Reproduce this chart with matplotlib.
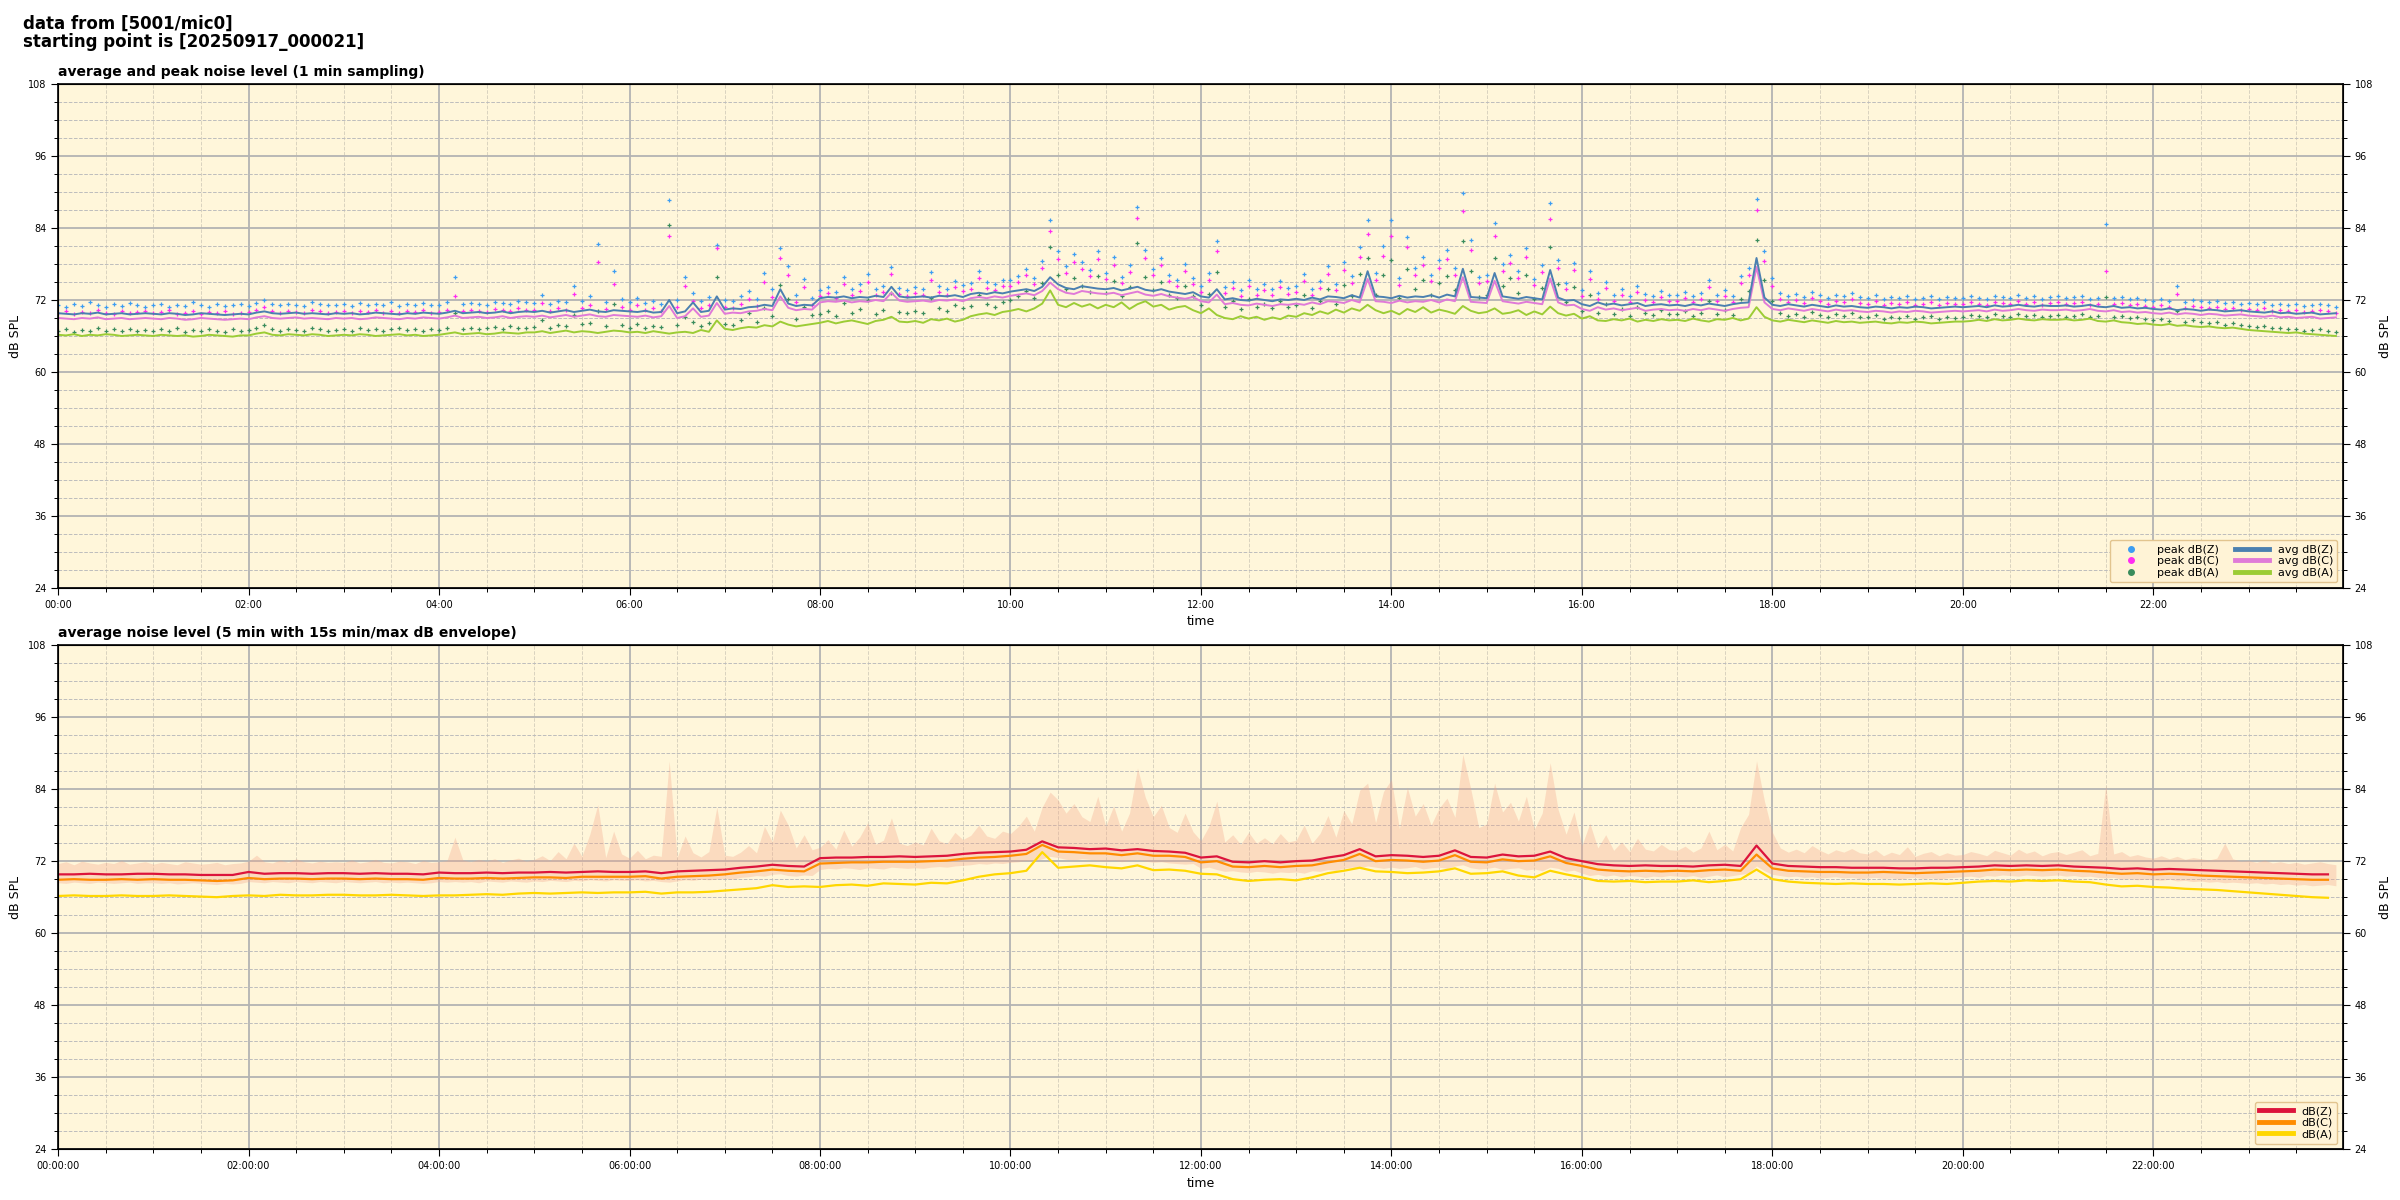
import numpy as np
import matplotlib
matplotlib.use("Agg")
import matplotlib.pyplot as plt
from matplotlib.lines import Line2D
from matplotlib.ticker import MultipleLocator

# ---------------- data (dB SPL) ----------------
# top panel, 5-minute samples starting 00:00
avg_z = [
69.8,69.7,69.6,69.8,69.7,69.9,69.6,69.7,69.8,69.6,69.7,69.8,
69.7,69.6,69.8,69.7,69.5,69.6,69.8,69.7,69.6,69.5,69.6,69.7,
69.6,69.9,70.1,69.8,69.7,69.8,69.9,69.7,69.8,69.7,69.6,69.8,
69.7,69.8,69.6,69.7,69.9,69.8,69.7,69.6,69.8,69.7,69.9,69.8,
69.7,69.9,70.2,69.8,69.9,70.0,69.8,69.9,70.1,69.8,70.0,70.1,
70.0,70.2,69.9,70.1,70.3,70.0,70.2,70.4,70.1,70.0,70.3,70.2,
70.1,70.0,70.2,69.9,70.0,72.0,69.8,70.1,71.6,70.0,70.2,72.6,
70.4,70.6,70.5,70.8,70.9,71.2,71.0,73.8,71.4,71.0,71.2,71.1,
72.3,72.5,72.4,72.6,72.3,72.5,72.4,72.7,72.5,74.2,72.6,72.4,
72.5,72.6,72.4,72.7,72.6,72.8,72.5,73.0,73.2,73.0,73.3,73.1,
73.4,73.6,73.8,73.5,74.2,75.8,74.6,74.0,73.8,74.3,74.1,73.9,
73.8,74.0,73.6,73.9,74.2,73.7,73.5,73.8,73.4,73.2,73.0,73.3,
72.6,72.4,73.8,72.1,72.3,72.0,71.9,72.2,72.0,71.8,72.1,72.0,
72.2,72.0,72.4,72.1,72.6,72.5,72.3,72.8,72.4,76.8,72.6,72.5,
72.3,72.7,72.4,72.6,72.5,72.8,72.4,72.9,72.6,77.2,72.5,72.4,
72.3,76.5,72.6,72.4,72.2,72.5,72.3,72.1,77.0,72.4,71.9,72.0,
71.3,71.0,71.6,71.2,71.4,71.1,71.3,71.5,71.0,71.2,71.3,71.1,
71.2,71.0,71.3,71.1,71.4,71.2,71.0,71.3,71.5,71.6,79.0,72.4,
71.2,71.0,71.3,71.1,70.9,71.2,71.0,70.8,71.1,70.9,71.0,70.8,
70.7,70.9,70.8,70.6,70.8,70.7,70.9,70.8,70.6,70.7,70.8,70.9,
70.8,70.9,71.0,70.8,71.1,70.9,71.0,71.2,71.0,70.9,71.1,71.0,
71.0,71.1,70.9,71.0,71.2,70.9,70.8,71.0,70.7,70.8,70.6,70.7,
70.5,70.4,70.6,70.3,70.5,70.4,70.2,70.4,70.3,70.1,70.2,70.3,
70.1,70.0,69.9,70.1,69.8,69.9,69.7,69.8,69.9,69.6,69.7,69.8]

avg_c = [
69.0,68.9,68.8,69.0,68.9,69.1,68.8,68.9,69.0,68.8,68.9,69.0,
68.9,68.8,69.0,68.9,68.7,68.8,69.0,68.9,68.8,68.7,68.8,68.9,
68.8,69.1,69.3,69.0,68.9,69.0,69.1,68.9,69.0,68.9,68.8,69.0,
68.9,69.0,68.8,68.9,69.1,69.0,68.9,68.8,69.0,68.9,69.1,69.0,
68.9,69.1,69.4,69.0,69.1,69.2,69.0,69.1,69.3,69.0,69.2,69.3,
69.2,69.4,69.1,69.3,69.5,69.2,69.4,69.6,69.3,69.2,69.5,69.4,
69.3,69.2,69.4,69.1,69.3,71.0,69.0,69.3,70.6,69.2,69.4,71.5,
69.7,69.9,69.8,70.1,70.2,70.5,70.3,72.6,70.7,70.3,70.5,70.4,
71.6,71.8,71.7,71.9,71.6,71.8,71.7,72.0,71.8,73.2,71.9,71.7,
71.8,71.9,71.7,72.0,71.9,72.1,71.8,72.3,72.5,72.3,72.6,72.4,
72.7,72.9,73.1,72.8,73.5,74.9,73.8,73.2,73.0,73.5,73.3,73.1,
73.0,73.2,72.8,73.1,73.4,72.9,72.7,73.0,72.6,72.4,72.2,72.5,
71.8,71.6,72.9,71.3,71.5,71.2,71.1,71.4,71.2,71.0,71.3,71.2,
71.4,71.2,71.6,71.3,71.8,71.7,71.5,72.0,71.6,75.5,71.8,71.7,
71.5,71.9,71.6,71.8,71.7,72.0,71.6,72.1,71.8,75.8,71.7,71.6,
71.5,75.2,71.8,71.6,71.4,71.7,71.5,71.3,75.6,71.6,71.1,71.2,
70.5,70.2,70.8,70.4,70.6,70.3,70.5,70.7,70.2,70.4,70.5,70.3,
70.4,70.2,70.5,70.3,70.6,70.4,70.2,70.5,70.7,70.8,77.5,71.6,
70.5,70.3,70.6,70.4,70.2,70.5,70.3,70.1,70.4,70.2,70.3,70.1,
70.0,70.2,70.1,69.9,70.1,70.0,70.2,70.1,69.9,70.0,70.1,70.2,
70.1,70.2,70.3,70.1,70.4,70.2,70.3,70.5,70.3,70.2,70.4,70.3,
70.3,70.4,70.2,70.3,70.5,70.2,70.1,70.3,70.0,70.1,69.9,70.0,
69.8,69.7,69.9,69.6,69.8,69.7,69.5,69.7,69.6,69.4,69.5,69.6,
69.4,69.3,69.2,69.4,69.1,69.2,69.0,69.1,69.2,68.9,69.0,69.1]

avg_a = [
66.2,66.1,66.3,66.0,66.2,66.1,66.3,66.2,66.0,66.1,66.2,66.1,
66.0,66.2,66.1,66.0,66.1,65.9,66.0,66.2,66.1,66.0,65.9,66.1,
66.1,66.4,66.6,66.2,66.1,66.3,66.2,66.1,66.3,66.2,66.0,66.1,
66.2,66.1,66.3,66.2,66.0,66.1,66.2,66.3,66.1,66.2,66.0,66.1,
66.2,66.4,66.6,66.3,66.4,66.5,66.3,66.4,66.6,66.5,66.4,66.6,
66.6,66.8,66.5,66.7,66.9,66.6,66.8,66.7,66.5,66.7,66.9,66.8,
66.6,66.7,66.5,66.8,66.6,66.4,66.6,66.7,66.5,67.0,66.7,68.6,
67.2,67.0,67.3,67.5,67.4,67.8,67.6,68.4,67.9,67.6,67.8,68.0,
68.2,68.5,68.1,68.4,68.6,68.3,68.0,68.5,68.7,69.2,68.4,68.3,
68.5,68.2,68.8,68.6,68.9,68.4,68.7,69.3,69.6,69.8,69.5,70.0,
70.2,70.5,70.1,70.6,71.4,73.6,71.2,70.8,71.5,70.9,71.3,70.6,
71.2,70.8,71.6,70.5,71.3,71.8,70.9,71.2,70.4,70.8,71.0,70.3,
69.8,70.6,69.5,69.0,68.8,69.3,68.9,69.2,68.7,69.1,68.8,69.4,
69.2,69.8,69.5,70.1,69.7,70.4,69.9,70.6,70.2,71.2,70.3,69.8,
70.2,69.6,70.5,70.0,70.8,69.9,70.4,70.1,69.7,71.0,70.2,69.8,
70.0,70.6,69.7,69.9,70.3,69.5,70.1,69.6,70.9,69.8,69.4,69.7,
68.9,69.3,68.6,68.5,68.8,68.6,68.9,68.4,68.7,68.5,68.8,68.6,
68.7,68.5,68.9,68.6,68.4,68.8,68.7,69.0,68.6,68.9,70.8,69.2,
68.6,68.4,68.7,68.5,68.3,68.6,68.4,68.2,68.5,68.3,68.4,68.2,
68.3,68.4,68.2,68.1,68.3,68.2,68.4,68.3,68.1,68.2,68.3,68.4,
68.4,68.5,68.7,68.5,68.8,68.6,68.7,68.9,68.7,68.6,68.8,68.7,
68.7,68.8,68.6,68.7,68.9,68.5,68.4,68.6,68.3,68.2,68.0,68.1,
67.9,67.8,68.0,67.7,67.8,67.6,67.5,67.6,67.4,67.3,67.4,67.2,
67.0,66.9,66.8,66.7,66.6,66.5,66.6,66.4,66.3,66.2,66.1,66.0]

peak_z = [
71.2,70.9,71.4,71.0,71.6,71.1,70.8,71.3,71.0,71.5,71.2,70.9,
71.1,71.4,70.9,71.2,71.0,71.6,71.1,70.8,71.3,71.0,71.2,71.4,
71.0,71.5,72.0,71.3,71.1,71.4,71.2,71.0,71.6,71.3,71.1,71.2,
71.3,71.0,71.5,71.2,71.4,71.1,71.6,71.0,71.3,71.2,71.5,71.1,
71.2,71.6,75.8,71.3,71.5,71.4,71.2,71.7,71.5,71.3,71.8,71.6,
71.5,72.8,71.4,71.9,71.6,74.3,71.8,72.6,81.3,71.7,76.8,72.1,
71.6,72.4,71.5,71.8,71.4,88.7,72.0,75.8,73.2,71.9,72.5,81.2,
72.0,71.8,72.6,73.5,72.2,76.5,73.8,80.6,77.6,72.9,75.5,72.4,
73.6,74.2,73.4,75.8,73.9,74.6,76.3,73.8,74.4,77.5,74.0,73.7,
74.1,73.8,76.6,74.4,73.9,75.2,74.5,74.8,76.9,75.0,74.6,75.3,
75.4,76.0,77.2,75.6,78.5,85.3,80.2,77.6,79.6,78.3,77.0,80.1,
76.5,79.1,75.8,77.8,87.5,80.3,77.2,79.0,76.1,75.4,78.0,75.6,
74.4,76.5,81.8,74.1,75.0,73.7,75.4,73.9,74.6,73.8,75.2,74.0,
74.3,76.4,73.9,75.1,77.6,74.6,78.3,76.0,80.9,85.3,76.5,81.0,
85.3,75.6,82.5,77.4,79.2,76.2,78.6,80.3,77.3,89.8,82.0,75.8,
76.2,84.9,78.0,79.5,76.8,80.6,75.5,77.9,88.1,78.6,74.9,78.2,
73.6,76.8,73.2,75.0,72.8,73.9,72.6,74.4,73.0,72.7,73.5,72.9,
72.8,73.3,72.6,73.1,75.4,72.9,73.6,72.7,76.0,77.4,88.9,80.1,
75.6,73.2,72.6,73.0,72.5,73.4,72.8,72.4,72.9,72.6,73.1,72.5,
72.4,72.8,72.2,72.5,72.3,72.7,72.1,72.4,72.6,72.2,72.5,72.3,
72.3,72.6,72.4,72.2,72.7,72.5,72.3,72.8,72.4,72.6,72.2,72.5,
72.6,72.3,72.5,72.7,72.2,72.4,84.7,72.3,72.5,72.1,72.3,72.0,
71.9,72.2,71.8,74.3,71.7,72.0,71.9,71.6,71.8,71.5,71.7,71.4,
71.5,71.3,71.6,71.2,71.4,71.1,71.3,71.0,71.2,71.4,71.1,70.9]

peak_c = [
69.9,70.2,69.7,70.0,69.8,70.3,69.9,69.6,70.1,69.8,70.0,70.2,
69.8,70.0,70.3,69.7,69.9,70.1,69.6,70.0,69.8,70.2,69.7,69.9,
70.0,70.4,70.8,70.1,69.9,70.2,70.0,69.8,70.3,70.1,69.9,70.0,
70.1,69.8,70.2,70.0,70.3,69.9,70.1,69.8,70.2,70.0,70.3,69.9,
70.0,70.3,72.6,70.1,70.4,70.2,70.0,70.5,70.3,70.1,70.6,70.4,
70.3,71.5,70.2,70.7,70.4,73.0,70.6,71.2,78.4,70.5,74.6,70.9,
70.4,71.1,70.3,70.6,70.2,82.7,70.8,74.3,71.9,70.7,71.2,80.6,
70.8,70.6,71.4,72.2,71.0,75.0,72.5,79.0,76.1,71.7,74.2,71.2,
72.6,73.1,72.4,74.6,72.9,73.5,75.0,72.8,73.4,76.3,73.0,72.7,
73.1,72.8,75.4,73.4,72.9,74.1,73.5,73.8,75.7,74.0,73.6,74.3,
74.4,75.0,76.1,74.6,77.3,83.5,78.9,76.5,78.3,77.1,76.0,78.8,
75.5,77.9,74.8,76.6,85.6,79.0,76.1,77.8,75.1,74.4,76.9,74.6,
73.4,75.3,80.2,73.1,74.0,72.7,74.3,72.9,73.6,72.8,74.1,73.0,
73.3,75.2,72.9,74.0,76.3,73.6,77.0,74.9,79.2,83.0,75.3,79.4,
82.6,74.5,80.8,76.2,77.9,75.1,77.3,78.8,76.2,86.8,80.4,74.8,
75.1,82.7,76.8,78.1,75.7,79.1,74.5,76.7,85.5,77.3,73.9,77.0,
72.6,75.5,72.2,74.0,71.8,72.9,71.6,73.3,72.0,71.7,72.5,71.9,
71.8,72.3,71.6,72.1,74.2,71.9,72.6,71.7,74.8,76.2,87.0,78.5,
74.4,72.2,71.6,72.0,71.5,72.4,71.8,71.4,71.9,71.6,72.1,71.5,
71.4,71.8,71.2,71.5,71.3,71.7,71.1,71.4,71.6,71.2,71.5,71.3,
71.3,71.6,71.4,71.2,71.7,71.5,71.3,71.8,71.4,71.6,71.2,71.5,
71.6,71.3,71.5,71.7,71.2,71.4,76.8,71.3,71.5,71.1,71.3,71.0,
70.9,71.2,70.8,73.0,70.7,71.0,70.9,70.6,70.8,70.5,70.7,70.4,
70.5,70.3,70.6,70.2,70.4,70.1,70.3,70.0,70.2,70.4,70.1,69.9]

peak_a = [
66.9,67.2,66.7,67.0,66.8,67.3,66.9,67.1,66.8,67.2,66.9,67.0,
66.8,67.1,66.9,67.3,66.7,67.0,66.8,67.2,66.9,66.7,67.1,66.9,
67.0,67.4,67.8,67.1,66.9,67.2,67.0,66.8,67.3,67.1,66.9,67.0,
67.1,66.9,67.3,67.0,67.2,66.8,67.1,67.4,67.0,67.2,66.9,67.1,
67.0,67.3,69.8,67.2,67.4,67.1,67.3,67.5,67.2,67.6,67.4,67.3,
67.5,68.6,67.4,67.8,67.6,69.5,68.0,68.2,70.2,67.7,71.4,67.9,
67.4,68.0,67.3,67.7,67.5,84.5,67.9,69.2,68.3,67.6,68.1,75.9,
68.0,67.8,68.6,69.9,68.4,70.6,69.3,74.5,72.2,68.9,70.8,69.5,
69.6,70.2,69.4,71.5,69.8,70.5,72.0,69.7,70.4,73.1,70.0,69.8,
70.2,69.9,72.4,70.6,70.1,71.2,70.7,71.0,72.8,71.3,70.9,71.6,
72.0,72.6,73.5,72.3,74.8,80.9,76.2,73.8,75.6,74.4,73.3,76.0,
73.1,75.2,72.7,74.1,81.5,75.8,73.6,75.0,72.9,72.4,74.3,72.6,
71.2,73.0,76.6,70.9,71.8,70.5,72.1,70.8,71.4,70.6,71.9,70.8,
71.1,72.8,70.7,71.8,73.9,71.4,74.5,72.6,76.3,79.0,72.9,76.1,
78.6,72.3,77.2,73.9,75.4,72.8,74.9,76.0,73.7,81.9,76.8,72.5,
72.8,79.0,74.3,75.6,73.2,76.2,72.1,74.0,80.8,74.6,71.6,74.2,
70.2,72.8,69.9,71.4,69.6,70.5,69.4,70.9,69.8,69.5,70.3,69.7,
69.6,70.1,69.4,69.9,71.8,69.7,70.4,69.5,72.1,73.5,82.0,75.4,
71.8,69.9,69.3,69.7,69.2,70.0,69.5,69.1,69.6,69.3,69.8,69.2,
69.1,69.5,68.9,69.2,69.0,69.4,68.8,69.1,69.3,68.9,69.2,69.0,
69.2,69.5,69.3,69.1,69.6,69.4,69.2,69.7,69.3,69.5,69.1,69.4,
69.5,69.2,69.4,69.6,69.1,69.3,72.5,69.2,69.4,69.0,69.1,68.8,
68.6,68.9,68.5,70.2,68.3,68.7,68.4,68.1,68.3,67.9,68.1,67.8,
67.7,67.5,67.6,67.3,67.4,67.1,67.2,66.9,67.0,67.1,66.8,66.6]

# bottom panel, 10-minute averages
line_z = [
69.8,69.8,69.9,69.8,69.8,69.9, 69.9,69.8,69.8,69.7,69.7,69.7,
70.2,69.9,70.0,70.0,69.9,70.0, 70.0,69.9,70.0,69.9,69.9,69.8,
70.1,70.0,70.0,70.1,70.0,70.1, 70.1,70.2,70.1,70.2,70.3,70.2,
70.2,70.3,70.0,70.3,70.4,70.5, 70.6,70.9,71.1,71.4,71.2,71.1,
72.5,72.6,72.6,72.7,72.7,72.8, 72.7,72.8,72.9,73.2,73.4,73.5,
73.6,73.9,75.3,74.3,74.2,74.0, 74.1,73.8,74.0,73.7,73.6,73.4,
72.6,72.8,71.9,71.8,72.0,71.8, 72.0,72.1,72.6,73.0,74.0,72.8,
73.0,72.9,72.7,72.9,73.8,72.7, 72.6,73.1,72.8,72.9,73.6,72.5,
72.0,71.5,71.3,71.2,71.3,71.2, 71.2,71.1,71.3,71.4,71.2,74.6,
71.6,71.2,71.1,71.0,71.0,70.9, 70.9,70.9,70.8,70.8,70.9,70.9,
71.0,71.1,71.3,71.2,71.3,71.2, 71.3,71.1,71.0,70.9,70.7,70.8,
70.6,70.7,70.6,70.5,70.4,70.3, 70.2,70.1,70.0,69.9,69.8,69.8]

line_c = [
68.9,69.0,68.9,68.9,69.0,68.9, 69.0,68.9,68.9,68.8,68.7,68.8,
69.2,69.0,69.1,69.1,69.0,69.1, 69.1,69.0,69.1,69.0,69.0,68.9,
69.2,69.1,69.1,69.2,69.1,69.2, 69.3,69.3,69.2,69.4,69.4,69.4,
69.4,69.5,69.1,69.4,69.5,69.6, 69.8,70.1,70.3,70.6,70.4,70.3,
71.6,71.7,71.8,71.8,71.9,71.9, 71.9,72.0,72.1,72.4,72.6,72.7,
72.9,73.2,74.7,73.6,73.5,73.3, 73.3,73.0,73.3,72.9,72.9,72.7,
71.8,72.0,71.1,71.0,71.2,71.0, 71.2,71.3,71.8,72.2,73.2,72.0,
72.2,72.1,71.9,72.1,73.0,71.9, 71.8,72.3,72.0,72.1,72.8,71.7,
71.2,70.6,70.4,70.3,70.4,70.3, 70.4,70.3,70.5,70.6,70.4,73.1,
70.8,70.4,70.3,70.2,70.2,70.1, 70.1,70.2,70.1,70.0,70.1,70.2,
70.3,70.4,70.6,70.5,70.6,70.5, 70.6,70.4,70.3,70.1,69.9,70.0,
69.8,69.9,69.8,69.6,69.5,69.4, 69.3,69.2,69.1,69.0,68.9,68.9]

line_a = [
66.2,66.3,66.2,66.2,66.3,66.2, 66.2,66.3,66.2,66.1,66.0,66.2,
66.3,66.2,66.4,66.3,66.3,66.4, 66.4,66.3,66.3,66.4,66.3,66.2,
66.3,66.3,66.4,66.5,66.4,66.6, 66.7,66.6,66.7,66.8,66.7,66.8,
66.8,66.9,66.6,66.8,66.8,66.9, 67.1,67.3,67.5,68.0,67.7,67.8,
67.7,68.0,68.1,67.9,68.3,68.2, 68.1,68.4,68.3,68.8,69.4,69.8,
70.0,70.4,73.5,70.9,71.1,71.3, 71.0,70.8,71.3,70.5,70.6,70.4,
69.9,69.8,69.0,68.7,68.9,69.0, 68.8,69.3,70.0,70.4,70.9,70.3,
70.2,70.0,70.1,70.3,70.8,69.9, 70.0,70.3,69.6,69.3,70.4,69.8,
69.3,68.7,68.6,68.7,68.5,68.6, 68.6,68.8,68.5,68.7,69.0,70.6,
69.0,68.6,68.4,68.3,68.2,68.3, 68.2,68.2,68.1,68.2,68.3,68.2,
68.4,68.6,68.7,68.6,68.8,68.7, 68.8,68.6,68.5,68.1,67.8,67.9,
67.7,67.6,67.4,67.3,67.2,67.0, 66.8,66.6,66.4,66.2,66.0,65.9]

# bottom panel envelope (5-minute steps)
env_max = [
71.6,71.9,71.4,72.0,71.7,71.5,71.8,71.6,72.1,71.5,71.7,71.9,
71.5,71.8,71.6,71.4,71.9,71.7,71.5,71.6,71.8,71.4,71.6,71.7,
72.0,73.0,71.9,71.7,72.2,71.8,72.4,71.9,71.7,72.0,71.8,71.9,
71.8,72.2,71.7,71.9,72.3,71.8,71.7,72.0,71.9,71.6,72.1,71.8,
71.9,72.1,76.0,72.2,71.9,72.3,72.0,72.4,71.8,72.2,72.5,72.0,
72.3,72.9,72.1,73.6,72.4,75.0,72.8,76.5,81.4,72.6,77.0,73.2,
72.5,73.8,72.4,73.0,72.8,88.7,72.6,76.2,73.4,72.7,73.6,81.0,
73.0,72.8,73.5,74.6,73.4,77.8,75.2,80.5,78.0,74.2,76.4,73.9,
74.3,75.6,74.0,77.2,74.5,76.0,78.4,74.8,75.5,79.2,75.0,74.6,
75.2,74.7,77.5,75.4,74.9,76.8,75.6,76.3,78.0,76.2,75.8,77.0,
76.6,77.8,79.5,77.0,81.0,83.5,82.2,80.0,81.6,79.4,78.6,82.8,
77.8,81.2,77.0,80.0,87.5,82.6,79.4,81.3,77.6,76.8,80.0,76.9,
75.4,77.8,82.0,75.2,76.4,74.8,76.8,75.0,75.9,74.9,76.6,75.2,
75.5,78.0,75.0,76.6,79.6,76.0,80.4,78.2,83.8,85.0,78.4,83.6,
85.6,77.4,84.3,79.5,81.6,78.0,80.8,82.5,79.3,89.8,84.0,77.6,
78.2,85.0,80.2,81.8,78.7,82.8,77.3,80.0,88.4,80.6,76.5,80.2,
74.6,78.3,74.2,76.4,73.8,75.2,73.6,75.8,74.0,73.7,74.8,73.9,
73.8,74.5,73.5,74.2,77.0,73.9,74.8,73.7,77.6,79.8,88.7,82.0,
76.8,74.2,73.5,74.0,73.4,74.6,73.8,73.2,73.9,73.5,74.1,73.4,
73.2,73.9,72.9,73.5,73.1,74.4,72.8,73.3,73.6,72.9,73.4,73.0,
73.1,73.6,73.3,72.9,73.8,73.4,73.0,74.0,73.3,73.7,72.9,73.4,
73.6,73.1,73.5,73.9,72.9,73.3,84.7,73.2,73.6,72.8,73.1,72.7,
72.5,72.9,72.4,72.8,72.3,72.6,72.4,72.2,72.5,75.0,72.4,72.0,
72.1,71.8,72.2,71.7,71.9,71.6,71.8,71.5,71.7,71.9,71.6,71.4]

env_min = [
68.4,68.3,68.5,68.4,68.3,68.5,68.4,68.3,68.4,68.5,68.3,68.4,
68.4,68.3,68.4,68.2,68.3,68.4,68.3,68.2,68.1,68.3,68.2,68.3,
68.6,68.5,68.4,68.6,68.5,68.4,68.6,68.5,68.4,68.6,68.5,68.4,
68.6,68.5,68.4,68.5,68.6,68.4,68.5,68.4,68.5,68.4,68.3,68.4,
68.6,68.5,68.6,68.5,68.6,68.4,68.7,68.6,68.5,68.7,68.6,68.5,
68.7,68.6,68.8,68.7,68.6,68.8,68.7,68.9,68.8,68.7,68.9,68.8,
68.8,68.9,68.7,68.8,68.6,68.5,68.7,68.9,68.8,69.0,68.9,69.0,
69.1,69.0,69.3,69.4,69.6,69.5,69.8,69.9,69.6,69.5,69.7,69.6,
70.6,70.8,70.7,70.9,70.8,70.6,70.9,70.8,70.7,71.0,70.9,70.8,
70.9,70.8,71.0,71.1,71.0,71.2,71.3,71.4,71.6,71.5,71.7,71.6,
71.8,71.9,72.1,72.0,72.4,72.8,72.6,72.3,72.2,72.4,72.3,72.1,
72.0,72.2,71.9,72.1,72.3,72.0,71.8,71.9,71.7,71.6,71.5,71.6,
70.8,71.0,70.6,70.3,70.4,70.2,70.1,70.3,70.2,70.0,70.2,70.1,
70.2,70.0,70.4,70.3,70.6,70.5,70.8,71.0,70.9,71.2,71.0,70.8,
71.0,70.8,70.9,71.1,70.7,70.9,71.0,70.8,71.2,71.4,70.9,70.7,
70.8,71.0,70.6,70.8,70.9,70.5,70.7,70.4,71.0,70.8,70.3,70.5,
70.0,69.6,69.8,69.5,69.7,69.4,69.6,69.5,69.3,69.5,69.4,69.6,
69.5,69.4,69.6,69.3,69.5,69.7,69.4,69.6,69.8,70.0,71.2,70.4,
69.8,69.6,69.4,69.5,69.3,69.4,69.2,69.3,69.4,69.2,69.3,69.1,
69.2,69.3,69.1,69.2,69.0,69.2,69.3,69.1,69.2,69.0,69.2,69.3,
69.4,69.5,69.3,69.6,69.5,69.7,69.6,69.5,69.7,69.6,69.5,69.6,
69.7,69.5,69.6,69.4,69.5,69.3,69.2,69.3,69.0,69.1,68.9,69.0,
68.9,68.8,69.0,68.7,68.8,68.6,68.7,68.5,68.6,68.4,68.5,68.4,
68.3,68.4,68.2,68.3,68.1,68.2,68.0,68.1,67.9,68.0,68.1,67.9]

hour_ticks = list(range(0, 24, 2))
top_tick_labels = ["%02d:00" % h for h in hour_ticks]
bottom_tick_labels = ["%02d:00:00" % h for h in hour_ticks]
y_ticks = [24, 36, 48, 60, 72, 84, 96, 108]

# time axes in hours
t5 = np.arange(len(avg_z)) * 5 / 60.0
t10 = np.arange(len(line_z)) * 10 / 60.0

# ---------------- figure ----------------
BG = "#fff6da"
fig = plt.figure(figsize=(24, 12), dpi=100)
fig.text(0.0096, 0.988, "data from [5001/mic0]\nstarting point is [20250917_000021]",
         fontsize=12, fontweight="bold", va="top", ha="left", linespacing=1.05)

ax1 = fig.add_axes([0.0242, 0.51, 0.952, 0.42])
ax2 = fig.add_axes([0.0242, 0.0422, 0.952, 0.4203])


def style(ax, xlabels):
    ax.set_facecolor(BG)
    ax.set_xlim(0, 23.99)
    ax.set_ylim(24, 108)
    ax.set_xticks(hour_ticks)
    ax.set_xticklabels(xlabels, fontsize=7)
    ax.xaxis.set_minor_locator(MultipleLocator(0.5))
    ax.set_yticks(y_ticks)
    ax.set_yticklabels([str(v) for v in y_ticks], fontsize=7)
    ax.yaxis.set_minor_locator(MultipleLocator(3))
    ax.set_axisbelow(True)
    ax.grid(which="major", color="#b3b3b3", lw=1.3, ls="-")
    ax.grid(which="minor", axis="y", color="#bdbdbd", lw=0.7, ls="--")
    ax.grid(which="minor", axis="x", color="#d9d2bf", lw=0.7, ls="--")
    ax.tick_params(which="major", length=5, width=0.8, direction="out")
    ax.tick_params(which="minor", length=3, width=0.7, direction="out")
    for s in ax.spines.values():
        s.set_linewidth(1.2)
    ax.set_xlabel("time", fontsize=9)
    ax.set_ylabel("dB SPL", fontsize=9)
    tw = ax.twinx()
    tw.set_ylim(24, 108)
    tw.set_yticks(y_ticks)
    tw.set_yticklabels([str(v) for v in y_ticks], fontsize=7)
    tw.yaxis.set_minor_locator(MultipleLocator(3))
    tw.tick_params(which="major", length=5, width=0.8)
    tw.tick_params(which="minor", length=3, width=0.7)
    tw.set_ylabel("dB SPL", fontsize=9)
    return tw


style(ax1, top_tick_labels)
style(ax2, bottom_tick_labels)

# top panel
c_pz, c_pc, c_pa = "#3d9df2", "#ff2cf2", "#3a8c5c"
c_az, c_ac, c_aa = "#4b80b0", "#e07ad8", "#9ccc35"
ax1.plot(t5, peak_z, "+", color=c_pz, ms=3.5, mew=0.9, zorder=3)
ax1.plot(t5, peak_c, "+", color=c_pc, ms=3.5, mew=0.9, zorder=3)
ax1.plot(t5, peak_a, "+", color=c_pa, ms=3.5, mew=0.9, zorder=3)
ax1.plot(t5, avg_a, color=c_aa, lw=1.4, zorder=4)
ax1.plot(t5, avg_c, color=c_ac, lw=1.4, zorder=4)
ax1.plot(t5, avg_z, color=c_az, lw=1.4, zorder=5)
ax1.set_title("average and peak noise level (1 min sampling)", loc="left",
              fontsize=10, fontweight="bold", pad=6)
handles1 = [
    Line2D([], [], ls="none", marker="o", ms=4, color=c_pz, label="peak dB(Z)"),
    Line2D([], [], ls="none", marker="o", ms=4, color=c_pc, label="peak dB(C)"),
    Line2D([], [], ls="none", marker="o", ms=4, color=c_pa, label="peak dB(A)"),
    Line2D([], [], color=c_az, lw=3.5, label="avg dB(Z)"),
    Line2D([], [], color=c_ac, lw=3.5, label="avg dB(C)"),
    Line2D([], [], color=c_aa, lw=3.5, label="avg dB(A)"),
]
ax1.legend(handles=handles1, loc="lower right", ncol=2, fontsize=8,
           frameon=True, facecolor="#fff3d6", edgecolor="#e2c48f",
           handlelength=3, labelspacing=0.15, columnspacing=1.5,
           borderpad=0.4, framealpha=1.0)

# bottom panel
ax2.fill_between(t5, env_min, env_max, color="#f3a488", alpha=0.32, lw=0, zorder=2)
ax2.plot(t10, line_a, color="#ffd700", lw=1.6, zorder=4)
ax2.plot(t10, line_c, color="#ff8c00", lw=1.6, zorder=4)
ax2.plot(t10, line_z, color="#dc143c", lw=1.6, zorder=5)
ax2.set_title("average noise level (5 min with 15s min/max dB envelope)", loc="left",
              fontsize=10, fontweight="bold", pad=6)
handles2 = [
    Line2D([], [], color="#dc143c", lw=3.5, label="dB(Z)"),
    Line2D([], [], color="#ff8c00", lw=3.5, label="dB(C)"),
    Line2D([], [], color="#ffd700", lw=3.5, label="dB(A)"),
]
ax2.legend(handles=handles2, loc="lower right", fontsize=8, frameon=True,
           facecolor="#fff3d6", edgecolor="#e2c48f", handlelength=3,
           labelspacing=0.15, borderpad=0.4, framealpha=1.0)

fig.savefig("out.png", dpi=100)
